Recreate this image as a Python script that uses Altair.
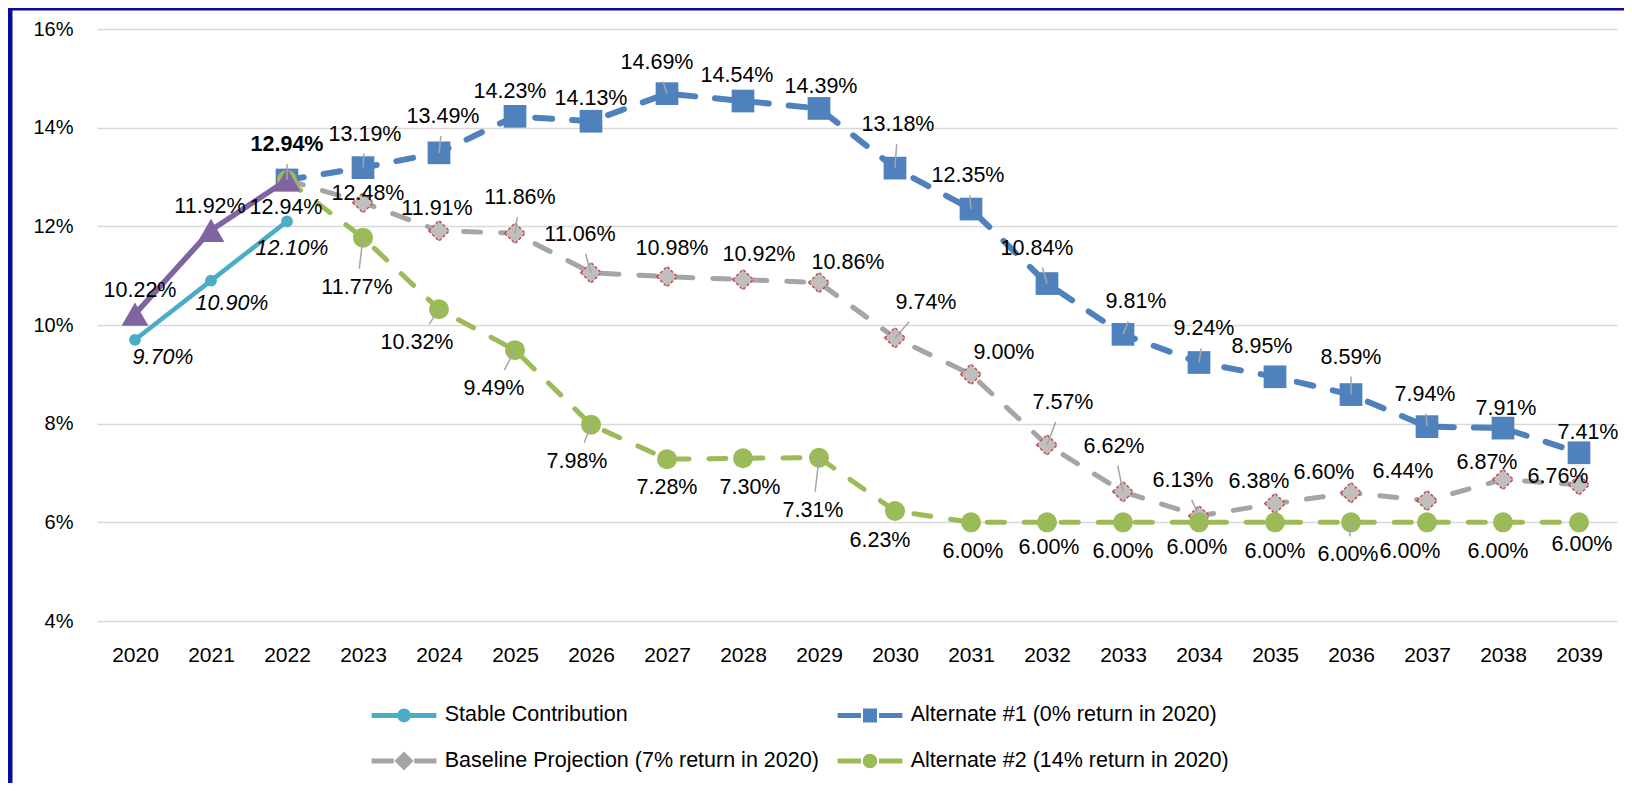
import altair as alt
import pandas as pd

# ---------------- data ----------------
years = list(range(2020, 2040))
hist_years = [2020, 2021, 2022]
proj_years = list(range(2022, 2040))

stable = [9.70, 10.90, 12.10]
actual = [10.22, 11.92, 12.94]
alt1 = [12.94, 13.19, 13.49, 14.23, 14.13, 14.69, 14.54, 14.39, 13.18, 12.35,
        10.84, 9.81, 9.24, 8.95, 8.59, 7.94, 7.91, 7.41]
baseline = [12.94, 12.48, 11.91, 11.86, 11.06, 10.98, 10.92, 10.86, 9.74, 9.00,
            7.57, 6.62, 6.13, 6.38, 6.60, 6.44, 6.87, 6.76]
alt2 = [12.94, 11.77, 10.32, 9.49, 7.98, 7.28, 7.30, 7.31, 6.23, 6.00,
        6.00, 6.00, 6.00, 6.00, 6.00, 6.00, 6.00, 6.00]

series_names = ["Stable Contribution",
                "Alternate #1 (0% return in 2020)",
                "Baseline Projection (7% return in 2020)",
                "Alternate #2 (14% return in 2020)"]

# label offsets (pixels, relative to each point); None = no label
stable_dx = [28, 21, 5]
stable_dy = [18, 23, 28]
actual_dx = [5, -1, -1]
actual_dy = [-23, -23, 28]
alt1_dx = [0, 2, 4, -5, 0, -10, -6, 2, 3, -3, -10, 13, 5, -13, 0, -2, 3, 9]
alt1_dy = [-35, -33, -36, -24, -22, -31, -25, -21, -43, -33, -35, -32, -33, -30, -37, -32, -19, -20]
base_dx = [None, 5, -2, 5, -11, 5, 16, 29, 31, 33, 16, -9, -16, -16, -27, -24, -16, -21]
base_dy = [None, -9, -22, -35, -38, -28, -25, -20, -35, -21, -42, -45, -35, -22, -20, -29, -16, -8]
alt2_dx = [None, -6, -22, -21, -14, 0, 7, -6, -15, 2, 2, 0, -2, 0, -3, -17, -5, 3]
alt2_dy = [None, 50, 34, 39, 37, 29, 30, 53, 30, 30, 26, 30, 26, 30, 33, 30, 30, 23]

# ---------------- styles ----------------
C_STABLE = "#4BACC6"
C_ACTUAL = "#8064A2"
C_ALT1 = "#4F81BD"
C_BASE = "#A5A5A5"
C_ALT2 = "#9BBB59"
FONT = "Liberation Sans"


def make_df(name, yrs, vals, dxs, dys):
    rows = []
    for i, (y, v) in enumerate(zip(yrs, vals)):
        rows.append({"series": name, "year": y, "value": v,
                     "label": f"{v:.2f}%",
                     "dx": dxs[i] if dxs[i] is not None else 0,
                     "dy": dys[i] if dys[i] is not None else 0,
                     "show": dxs[i] is not None,
                     "bold": (name == series_names[1] and i == 0)})
    return pd.DataFrame(rows)


df_stable = make_df(series_names[0], hist_years, stable, stable_dx, stable_dy)
df_actual = make_df("Actual", hist_years, actual, actual_dx, actual_dy)
df_alt1 = make_df(series_names[1], proj_years, alt1, alt1_dx, alt1_dy)
df_base = make_df(series_names[2], proj_years, baseline, base_dx, base_dy)
df_alt2 = make_df(series_names[3], proj_years, alt2, alt2_dx, alt2_dy)

X = alt.X("year:Q",
          scale=alt.Scale(domain=[2019.5, 2039.5], nice=False, zero=False),
          axis=alt.Axis(values=years, format="d", grid=False, domain=False, ticks=False,
                        labelFontSize=21, labelPadding=23, labelFont=FONT,
                        labelColor="#000000", title=None, labelFlush=False))
Y = alt.Y("value:Q",
          scale=alt.Scale(domain=[4, 16], nice=False, zero=False),
          axis=alt.Axis(values=[4, 6, 8, 10, 12, 14, 16], labelExpr="datum.value + '%'",
                        domain=False, ticks=False, grid=True, gridColor="#D9D9D9",
                        gridWidth=1.5, labelFontSize=20, labelPadding=24,
                        labelFont=FONT, labelColor="#000000", title=None))

DASH = [17, 20]


def line_layer(df, color, width, dashed):
    kw = dict(color=color, strokeWidth=width, strokeCap="round", strokeJoin="round")
    if dashed:
        kw["strokeDash"] = DASH
    return alt.Chart(df).mark_line(**kw).encode(x=X, y=Y)


def text_layer(df, italic=False):
    kw = dict(font=FONT, fontSize=21.5, color="#000000", baseline="middle", align="center",
              dx=alt.ExprRef("datum.dx"), dy=alt.ExprRef("datum.dy"),
              fontWeight=alt.ExprRef("datum.bold ? 'bold' : 'normal'"))
    if italic:
        kw["fontStyle"] = "italic"
    return (alt.Chart(df).transform_filter("datum.show")
            .mark_text(**kw).encode(x=X, y=Y, text="label:N"))


def leader_layer(df):
    return (alt.Chart(df)
            .transform_filter("datum.show && abs(datum.dy) >= 31")
            .transform_calculate(ly="datum.dy - (datum.dy < 0 ? -19 : 19)")
            .transform_calculate(lx="datum.dx * datum.ly / datum.dy")
            .mark_rule(color="#A6A6A6", strokeWidth=1.5,
                       x2Offset=alt.ExprRef("datum.lx"), y2Offset=alt.ExprRef("datum.ly"))
            .encode(x=X, y=Y, x2="year:Q", y2="value:Q"))


border = (alt.Chart(pd.DataFrame({"k": [0]}))
          .mark_rect(fill="transparent", stroke="#0A0AA0", strokeWidth=5)
          .encode(x=alt.value(-87), x2=alt.value(1560), y=alt.value(-21), y2=alt.value(820)))

alt1_line = line_layer(df_alt1, C_ALT1, 6, True)
alt1_pts = alt.Chart(df_alt1).mark_point(shape="square", filled=True, size=515,
                                         color=C_ALT1, opacity=1).encode(x=X, y=Y)
base_line = line_layer(df_base, C_BASE, 5, True)
base_pts = alt.Chart(df_base).mark_point(shape="diamond", filled=True, size=420, fill="#BFBFBF",
                                         stroke="#C0504D", strokeWidth=1.5, strokeDash=[3, 2],
                                         opacity=1).encode(x=X, y=Y)
alt2_line = line_layer(df_alt2, C_ALT2, 5, True)
alt2_pts = alt.Chart(df_alt2).mark_point(shape="circle", filled=True, size=400,
                                         color=C_ALT2, opacity=1).encode(x=X, y=Y)
stable_line = line_layer(df_stable, C_STABLE, 4.5, False)
stable_pts = alt.Chart(df_stable).mark_point(shape="circle", filled=True, size=140,
                                             color=C_STABLE, opacity=1).encode(x=X, y=Y)
actual_line = line_layer(df_actual, C_ACTUAL, 5.5, False)
actual_pts = alt.Chart(df_actual).mark_point(shape="triangle-up", filled=True, size=720,
                                             color=C_ACTUAL, opacity=1).encode(x=X, y=Y)

# legend (symbols built from line + marker paths); column-major fill -> this order
legend_order = [series_names[0], series_names[2], series_names[1], series_names[3]]
legend_colors = [C_STABLE, C_BASE, C_ALT1, C_ALT2]
legend_paths = [
    "M-5.4,0H5.4M0.75,0A0.75,0.75 0 1,1 -0.75,0A0.75,0.75 0 1,1 0.75,0Z",
    "M-5.4,0H-1.7M1.7,0H5.4M0,-1L1,0L0,1L-1,0Z",
    "M-5.4,0H-1.5M1.5,0H5.4M-0.75,-0.75H0.75V0.75H-0.75Z",
    "M-5.4,0H-1.5M1.5,0H5.4M0.8,0A0.8,0.8 0 1,1 -0.8,0A0.8,0.8 0 1,1 0.8,0Z",
]
leg = alt.Legend(title=None, orient="none", legendX=296.25, legendY=675.25, columns=2,
                 columnPadding=8, rowPadding=14, symbolSize=144, symbolStrokeWidth=5,
                 labelOffset=30, labelFont=FONT, labelFontSize=21.5, labelColor="#000000",
                 labelLimit=0, padding=0)
legend_df = pd.DataFrame({"series": legend_order, "year": [2020] * 4, "value": [10] * 4})
legend_layer = (alt.Chart(legend_df).transform_filter("false")
                .mark_point(filled=True, opacity=1)
                .encode(x=X, y=Y,
                        fill=alt.Fill("series:N", scale=alt.Scale(domain=legend_order, range=legend_colors), legend=leg, sort=legend_order),
                        stroke=alt.Stroke("series:N", scale=alt.Scale(domain=legend_order, range=legend_colors), legend=leg, sort=legend_order),
                        shape=alt.Shape("series:N", scale=alt.Scale(domain=legend_order, range=legend_paths), legend=leg, sort=legend_order)))

chart = alt.layer(
    border, legend_layer,
    alt1_line, alt1_pts,
    base_line, base_pts,
    alt2_line, alt2_pts,
    stable_line, stable_pts,
    actual_line, actual_pts,
    leader_layer(df_alt1), leader_layer(df_base), leader_layer(df_alt2),
    text_layer(df_alt1), text_layer(df_base), text_layer(df_alt2),
    text_layer(df_stable, italic=True), text_layer(df_actual),
).properties(
    width=1520, height=592,
    autosize=alt.AutoSizeParams(type="none"),
    padding={"left": 89, "top": 21, "right": 7, "bottom": 162},
    background="white",
).configure_view(stroke=None)

chart.save("out.html", embed_options={"renderer": "svg", "actions": False})
